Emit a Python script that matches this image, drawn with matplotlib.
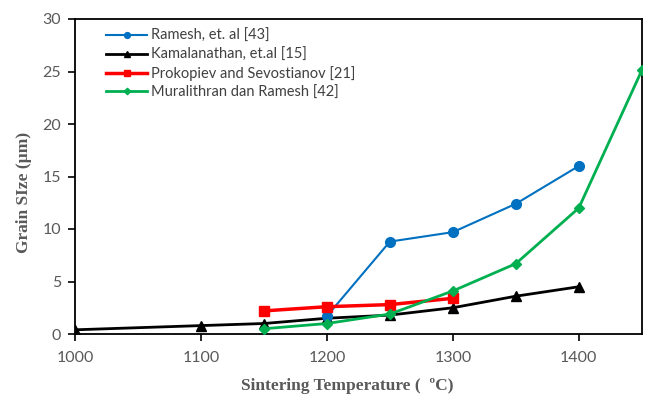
import matplotlib
matplotlib.use("Agg")
import matplotlib.pyplot as plt

ramesh_x = [1200, 1250, 1300, 1350, 1400]
ramesh_y = [1.7, 8.8, 9.7, 12.4, 16.0]
kamal_x = [1000, 1100, 1150, 1200, 1250, 1300, 1350, 1400]
kamal_y = [0.4, 0.8, 1.0, 1.5, 1.8, 2.5, 3.6, 4.5]
prok_x = [1150, 1200, 1250, 1300]
prok_y = [2.2, 2.6, 2.8, 3.4]
mural_x = [1150, 1200, 1250, 1300, 1350, 1400, 1450]
mural_y = [0.5, 1.0, 1.9, 4.1, 6.7, 12.0, 25.1]

labels = ["Ramesh, et. al [43]", "Kamalanathan, et.al [15]",
          "Prokopiev and Sevostianov [21]", "Muralithran dan Ramesh [42]"]
xticks = [1000, 1100, 1200, 1300, 1400]
yticks = [0, 5, 10, 15, 20, 25, 30]

fig = plt.figure(figsize=(6.56, 4.0), dpi=100)
ax = fig.add_axes([0.1143, 0.165, 0.864, 0.7875])

ax.plot(ramesh_x, ramesh_y, color="#0070C0", lw=1.5, marker="o", ms=7, label=labels[0], zorder=3)
ax.plot(kamal_x, kamal_y, color="black", lw=2, marker="^", ms=7, label=labels[1], zorder=2)
ax.plot(prok_x, prok_y, color="#FF0000", lw=2.5, marker="s", ms=7, label=labels[2], zorder=4)
ax.plot(mural_x, mural_y, color="#00B050", lw=2, marker="D", ms=5.5, label=labels[3], zorder=5)

ax.set_xlim(1000, 1450)
ax.set_ylim(0, 30)
ax.set_xticks(xticks)
ax.set_yticks(yticks)
for s in ax.spines.values():
    s.set_linewidth(1.3)
    s.set_color("black")
ax.tick_params(direction="out", length=5, width=1.2, labelsize=11.5,
               labelcolor="#595959", labelfontfamily="Lato")
ax.tick_params(axis="x", pad=7)
ax.tick_params(axis="y", pad=5)
ax.set_xlabel("Sintering Temperature (  ºC)", fontsize=12.5, fontweight="bold",
              family="Liberation Serif", color="#595959")
ax.set_ylabel("Grain SIze (µm)", fontsize=12.5, fontweight="bold",
              family="Liberation Serif", color="#595959")
ax.xaxis.set_label_coords(0.48, -0.14)
ax.yaxis.set_label_coords(-0.075, 0.45)

leg = ax.legend(loc="upper left", bbox_to_anchor=(0.037, 1.0), frameon=False,
                prop={"family": "Lato", "size": 10.5}, handlelength=2.8,
                handletextpad=0.25, labelspacing=0.3, markerscale=0.6,
                borderaxespad=0.3)
for t in leg.get_texts():
    t.set_color("#404040")

fig.savefig("out.png", dpi=100)
